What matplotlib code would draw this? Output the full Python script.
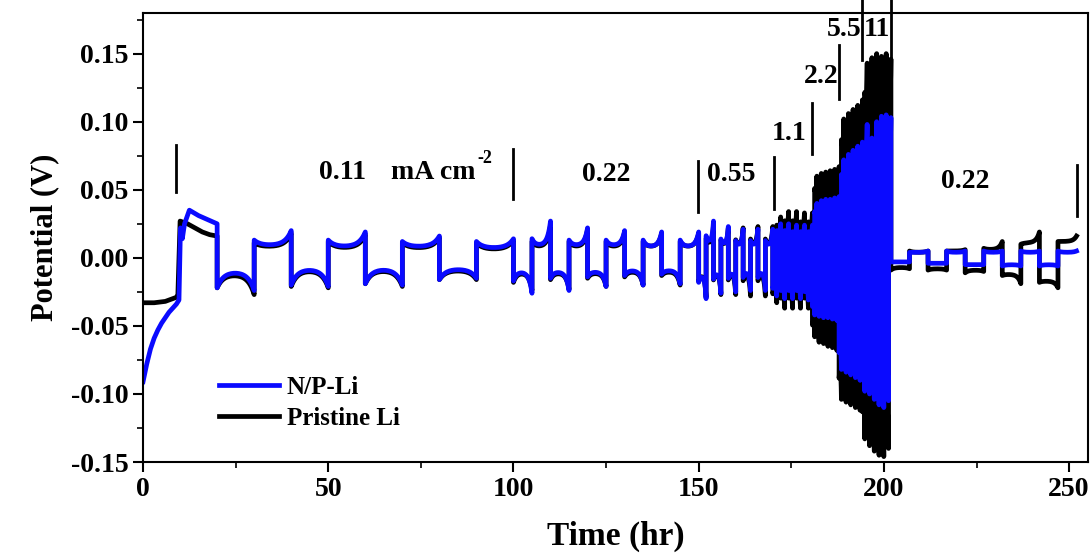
import numpy as np
import matplotlib.pyplot as plt
from matplotlib.ticker import MultipleLocator, FormatStrFormatter

plt.rcParams['font.family'] = ['Liberation Serif', 'DejaVu Serif']
plt.rcParams['font.weight'] = 'bold'
plt.rcParams['axes.unicode_minus'] = False

# ---- data (time in hr, potential in V) ----
# rest + first plating half cycle
np_t0 = [0, 1, 2, 3, 4, 5, 6, 7, 8, 9, 9.7, 10.1, 10.6, 11.2, 12.5, 15, 17.5, 20]
np_v0 = [-0.091, -0.078, -0.067, -0.059, -0.053, -0.048, -0.044, -0.040, -0.037,
         -0.034, -0.031, 0.022, 0.014, 0.025, 0.035, 0.031, 0.028, 0.025]
pr_t0 = [0, 3, 6, 8, 9, 9.4, 10, 12, 14, 16, 18, 20]
pr_v0 = [-0.033, -0.033, -0.032, -0.030, -0.029, -0.027, 0.027, 0.025, 0.022,
         0.019, 0.017, 0.016]

# 0.11 mA cm-2, 10 h halves from 20 h: (start, plateau, end) of each half
np_011 = [(-0.022, -0.010, -0.024), (0.013, 0.009, 0.020), (-0.020, -0.008, -0.021),
          (0.013, 0.008, 0.019), (-0.019, -0.008, -0.020), (0.012, 0.008, 0.016),
          (-0.016, -0.008, -0.015), (0.012, 0.007, 0.014)]
pr_011 = [(-0.022, -0.012, -0.027), (0.011, 0.008, 0.018), (-0.021, -0.009, -0.022),
          (0.012, 0.007, 0.017), (-0.019, -0.009, -0.021), (0.011, 0.007, 0.015),
          (-0.016, -0.009, -0.016), (0.011, 0.006, 0.013)]

# 0.22 mA cm-2, 5 h halves from 100 h
np_022a = [(-0.017, -0.010, -0.026), (0.014, 0.009, 0.027), (-0.015, -0.010, -0.024),
           (0.013, 0.009, 0.022), (-0.014, -0.010, -0.021), (0.013, 0.009, 0.020),
           (-0.013, -0.009, -0.020), (0.013, 0.008, 0.019), (-0.012, -0.009, -0.019),
           (0.013, 0.008, 0.019)]
pr_022a = [(-0.018, -0.011, -0.024), (0.012, 0.008, 0.024), (-0.016, -0.011, -0.023),
           (0.012, 0.008, 0.021), (-0.015, -0.011, -0.021), (0.012, 0.008, 0.019),
           (-0.014, -0.010, -0.020), (0.012, 0.008, 0.018), (-0.013, -0.010, -0.020),
           (0.012, 0.008, 0.018)]

# higher rates: per visible cycle, peak of the stripping and plating halves
np_055_top = [0.027, 0.023, 0.021, 0.021, 0.021]
np_055_bot = [-0.030, -0.026, -0.025, -0.024, -0.024]
pr_055_top = [0.024, 0.022, 0.022, 0.023, 0.023]
pr_055_bot = [-0.029, -0.027, -0.027, -0.028, -0.028]

np_11_top = [0.025, 0.025, 0.024, 0.024, 0.024]
np_11_bot = [-0.028, -0.030, -0.030, -0.030, -0.031]
pr_11_top = [0.030, 0.034, 0.034, 0.033, 0.033]
pr_11_bot = [-0.033, -0.037, -0.037, -0.037, -0.037]

np_22_top = [0.040, 0.042, 0.043, 0.043, 0.044, 0.045]
np_22_bot = [-0.042, -0.043, -0.044, -0.044, -0.045, -0.046]
pr_22_top = [0.060, 0.062, 0.063, 0.064, 0.065, 0.067]
pr_22_bot = [-0.058, -0.062, -0.063, -0.065, -0.066, -0.068]

np_55_top = [0.072, 0.076, 0.079, 0.082, 0.085]
np_55_bot = [-0.082, -0.084, -0.086, -0.088, -0.090]
pr_55_top = [0.102, 0.106, 0.109, 0.112, 0.116]
pr_55_bot = [-0.104, -0.106, -0.108, -0.110, -0.112]

np_110_top = [0.098, 0.088, 0.100, 0.104, 0.105, 0.103]
np_110_bot = [-0.098, -0.100, -0.104, -0.108, -0.110, -0.105]
pr_110_top = [0.143, 0.147, 0.150, 0.148, 0.150, 0.146]
pr_110_bot = [-0.133, -0.138, -0.142, -0.145, -0.146, -0.140]

# back to 0.22 mA cm-2, 5 h halves from ~202 h
np_022b = [(-0.003, -0.003, -0.003), (0.004, 0.004, 0.005), (-0.004, -0.004, -0.004),
           (0.005, 0.004, 0.005), (-0.005, -0.005, -0.005), (0.005, 0.004, 0.005),
           (-0.006, -0.005, -0.006), (0.005, 0.004, 0.005), (-0.006, -0.005, -0.006),
           (0.005, 0.004, 0.005)]
pr_022b = [(-0.009, -0.007, -0.008), (0.005, 0.004, 0.005), (-0.009, -0.008, -0.009),
           (0.005, 0.005, 0.006), (-0.011, -0.009, -0.010), (0.007, 0.006, 0.012),
           (-0.013, -0.012, -0.019), (0.010, 0.011, 0.019), (-0.018, -0.017, -0.022),
           (0.012, 0.012, 0.016)]

# rate labels and the separator bars
rate_labels = ["0.11", "0.22", "0.55", "1.1", "2.2", "5.5", "11", "0.22"]
label_t = [53.8, 125.1, 158.9, 174.3, 183.0, 189.2, 198.1, 221.9]
label_v = [0.063, 0.061, 0.061, 0.091, 0.133, 0.168, 0.168, 0.056]
bar_t = [8.8, 99.9, 149.8, 170.2, 180.7, 187.9, 194.2, 201.9, 252.0]
bar_top = [0.083, 0.080, 0.071, 0.074, 0.114, 0.156, 0.190, 0.190, 0.068]
bar_bot = [0.048, 0.043, 0.034, 0.036, 0.076, 0.117, 0.145, 0.145, 0.031]


def half(t0, t1, a, b, c, n=30):
    s = np.linspace(0, 1, n)
    v = b + (a - b) * np.exp(-6 * s) + (c - b) * np.exp(-6 * (1 - s))
    return t0 + s * (t1 - t0), v


def low_block(t_start, half_h, triples):
    ts, vs = [], []
    for i, (a, b, c) in enumerate(triples):
        t, v = half(t_start + i * half_h, t_start + (i + 1) * half_h, a, b, c)
        ts.append(t)
        vs.append(v)
    return ts, vs


def high_block(t_start, t_end, tops, bots, fs, fp):
    ts, vs = [], []
    per = (t_end - t_start) / len(tops)
    for i in range(len(tops)):
        t0 = t_start + i * per
        t, v = half(t0, t0 + per / 2, fs * bots[i], fp * bots[i], bots[i], 12)
        ts.append(t)
        vs.append(v)
        t, v = half(t0 + per / 2, t0 + per, fs * tops[i], fp * tops[i], tops[i], 12)
        ts.append(t)
        vs.append(v)
    return ts, vs


def build(t0, v0, b011, b022a, h055, h11, h22, h55, h110, b022b):
    ts, vs = [np.array(t0, float)], [np.array(v0, float)]
    for part in [low_block(20, 10, b011), low_block(100, 5, b022a),
                 high_block(150, 170, h055[0], h055[1], 0.6, 0.45),
                 high_block(170, 180.7, h11[0], h11[1], 0.8, 0.7),
                 high_block(180.7, 187.9, h22[0], h22[1], 0.85, 0.8),
                 high_block(187.9, 194.2, h55[0], h55[1], 0.85, 0.8),
                 high_block(194.2, 201.9, h110[0], h110[1], 0.85, 0.8),
                 low_block(201.9, 5.01, b022b)]:
        ts += part[0]
        vs += part[1]
    return np.concatenate(ts), np.concatenate(vs)


np_t, np_v = build(np_t0, np_v0, np_011, np_022a, (np_055_top, np_055_bot),
                   (np_11_top, np_11_bot), (np_22_top, np_22_bot),
                   (np_55_top, np_55_bot), (np_110_top, np_110_bot), np_022b)
pr_t, pr_v = build(pr_t0, pr_v0, pr_011, pr_022a, (pr_055_top, pr_055_bot),
                   (pr_11_top, pr_11_bot), (pr_22_top, pr_22_bot),
                   (pr_55_top, pr_55_bot), (pr_110_top, pr_110_bot), pr_022b)

fig = plt.figure(figsize=(10.92, 5.56), dpi=100)
ax = fig.add_axes([0.131, 0.169, 0.865, 0.808])

ax.plot(pr_t, pr_v, color='black', lw=3.4, label='Pristine Li')
ax.plot(np_t, np_v, color='#0a0aff', lw=3.4, label='N/P-Li')

for t, top, bot in zip(bar_t, bar_top, bar_bot):
    ax.plot([t, t], [bot, top], color='black', lw=2, clip_on=False)

for lab, t, v in zip(rate_labels, label_t, label_v):
    ax.text(t, v, lab, fontsize=20, fontweight='bold', ha='center', va='center')
unit = ax.text(67, 0.063, 'mA cm', fontsize=20, fontweight='bold',
               ha='left', va='center')
ax.annotate('-2', xy=(1, 0.72), xycoords=unit, xytext=(1, 0),
            textcoords='offset points', fontsize=13, fontweight='bold',
            ha='left', va='bottom')

ax.set_xlim(0, 255)
ax.set_ylim(-0.15, 0.18)
ax.xaxis.set_major_locator(MultipleLocator(50))
ax.xaxis.set_minor_locator(MultipleLocator(25))
ax.yaxis.set_major_locator(MultipleLocator(0.05))
ax.yaxis.set_minor_locator(MultipleLocator(0.025))
ax.yaxis.set_major_formatter(FormatStrFormatter('%.2f'))
ax.tick_params(which='major', direction='out', length=7, width=1.5, labelsize=20)
ax.tick_params(which='minor', direction='out', length=4, width=1.2)
for sp in ax.spines.values():
    sp.set_linewidth(1.5)

ax.set_xlabel('Time (hr)', fontsize=24, fontweight='bold', labelpad=14)
ax.set_ylabel('Potential (V)', fontsize=22, fontweight='bold', labelpad=8)

handles, labels = ax.get_legend_handles_labels()
ax.legend(handles[::-1], labels[::-1], loc='lower left', bbox_to_anchor=(0.07, 0.05),
          frameon=False, handlelength=2.4, handletextpad=0.3,
          labelspacing=0.3, borderaxespad=0, prop={'weight': 'bold', 'size': 18})

fig.savefig('out.png', dpi=100)
